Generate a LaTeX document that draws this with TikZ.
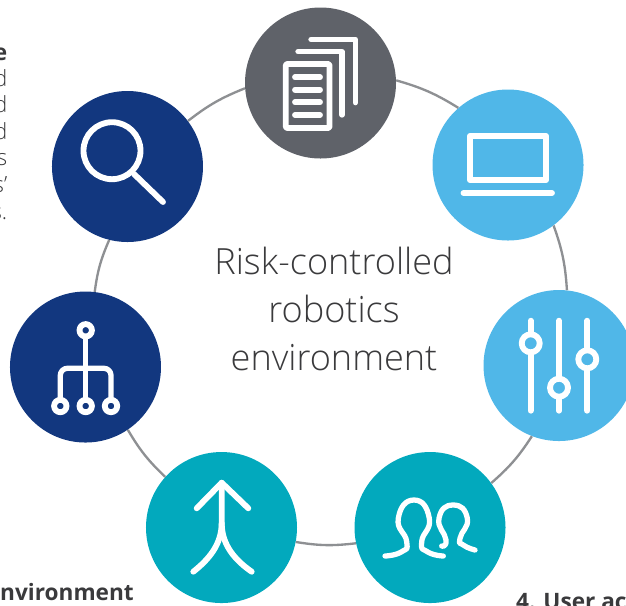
\documentclass[tikz,border=0pt]{standalone}
\usepackage{fontspec}
\usepackage{xcolor}
\usepackage{tikz}
\usetikzlibrary{positioning}
\setmainfont{Open Sans}
\newfontfamily\lightfont{Open Sans Light}
\definecolor{slategrey}{HTML}{5F6269}
\definecolor{skyblue}{HTML}{50B7E8}
\definecolor{navyblue}{HTML}{12377F}
\definecolor{tealblue}{HTML}{02A9BD}
\definecolor{ringgrey}{HTML}{8E9093}
\definecolor{inkgrey}{HTML}{3A3A3C}

\begin{document}
\begin{tikzpicture}[
  x=0.03cm, y=-0.03cm, on grid,
  hubnode/.style={circle, inner sep=0pt, minimum size=4.53cm},
  ringline/.style={draw=ringgrey, line width=2pt, bend left=8},
  iconline/.style={white, line width=5pt, line cap=round, line join=round},
  thinline/.style={iconline, line width=4.5pt},
  headtext/.style={font=\lightfont\fontsize{30.8}{41}\selectfont, text=inkgrey, align=center, inner sep=0pt},
  sidetext/.style={font=\lightfont\fontsize{19}{22.7}\selectfont, text=inkgrey, align=right, inner sep=0pt},
  boldtext/.style={font=\bfseries\fontsize{19.3}{22.7}\selectfont, text=inkgrey, inner sep=0pt}
]
\clip (0,0) rectangle (626,605);

%Nodes
\node[hubnode, fill=slategrey] (docs) at (320.5,83) {};
\node[hubnode, fill=skyblue, below right=2.46cm and 5.625cm of docs] (laptop) {};
\node[hubnode, fill=skyblue, below right=6.015cm and 1.53cm of laptop] (sliders) {};
\node[hubnode, fill=tealblue, below left=4.86cm and 3.87cm of sliders] (people) {};
\node[hubnode, fill=tealblue, left=6.255cm of people] (merge) {};
\node[hubnode, fill=navyblue, above left=4.815cm and 4.08cm of merge] (tree) {};
\node[hubnode, fill=navyblue, above right=6.015cm and 1.26cm of tree] (lens) {};

\node[headtext] (title) at (334,309) {Risk-controlled\\robotics\\environment};
\node[sidetext, anchor=north east] (sidecut) at (7.5,69) {d\\d\\d\\s\\s’\\s.};
\node[boldtext, anchor=base east] (sidehead) at (7.5,60) {e};
\node[boldtext, anchor=base west] (leftcut) at (0,600) {nvironment};
\node[boldtext, anchor=base west] (rightcut) at (516,609) {4. User ac};

%Arrows
\draw[ringline] (docs.2) to (laptop.131);
\draw[ringline] (laptop.-53) to (sliders.84);
\draw[ringline] (sliders.-111) to (people.36);
\draw[ringline] (people.192.7) to (merge.-11);
\draw[ringline] (merge.138) to (tree.-56);
\draw[ringline] (tree.83) to (lens.256);
\draw[ringline] (lens.37.4) to (docs.184.5);

%Icon documents
\draw[iconline, line cap=butt, rounded corners=1pt] (285.8,64) rectangle (329.5,128);
\foreach \y in {77.3,89.7,102.3,115}
  \draw[iconline] (295,\y) -- (320,\y);
\draw[thinline] (298,51.7) -- (342,51.7) -- (342,115);
\draw[thinline] (311,39.3) -- (355.3,39.3) -- (355.3,102.7);

%Icon laptop
\draw[iconline, line cap=butt] (470,136) rectangle (546,180);
\draw[iconline] (463.5,193) -- (552,193);

%Icon sliders
\foreach \x/\y in {530.7/343.3,559/387.7,587.3/359.3} {
  \draw[iconline] (\x,320.7) -- (\x,410.7);
  \draw[iconline, fill=skyblue] (\x,\y) circle[radius=9];
}

%Icon people
\draw[thinline] plot[smooth, tension=1] coordinates {(385,556) (401.7,551.7) (406.7,541.7) (398.3,518.3) (414,500) (429.3,518.3) (421.7,541.7) (427.3,551.7) (443.3,556)};
\draw[thinline] plot[smooth, tension=1] coordinates {(441.7,546) (446,540) (439,518.3) (453.3,505) (467.3,518.3) (460,538.3) (463.3,545) (475,550)};

%Icon merge
\draw[iconline] (196.7,508.3) -- (221.7,482.7) -- (248.3,508.3);
\draw[iconline] (221.7,482.7) -- (221.7,523) .. controls (221.7,545) and (208,560) .. (193.3,571.7);
\draw[iconline] (221.7,523) .. controls (221.7,545) and (235,560) .. (251.7,571.7);

%Icon tree
\draw[thinline] (85.7,330.3) -- (85.7,406);
\draw[thinline, rounded corners=6pt] (60.3,406) -- (60.3,368.3) -- (111,368.3) -- (111,406);
\foreach \x/\y in {85.7/330.3,60.3/406,85.7/406,111/406}
  \draw[iconline, fill=navyblue] (\x,\y) circle[radius=6.2];

%Icon lens
\draw[iconline] (112,150.7) circle[radius=28.5];
\draw[iconline] (134,174) -- (163,202);
\end{tikzpicture}
\end{document}
